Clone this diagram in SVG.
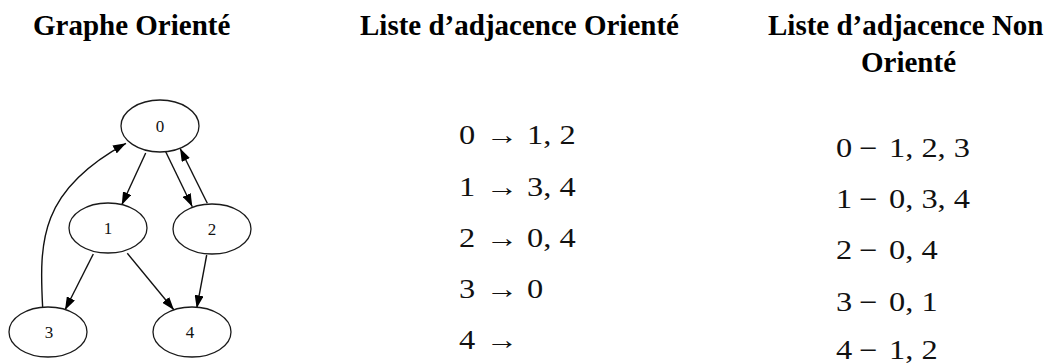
<svg xmlns="http://www.w3.org/2000/svg" width="1046" height="363" viewBox="0 0 1046 363">
<style>
.title{font-family:"Liberation Serif","Times New Roman",serif;font-weight:bold;font-size:29px;fill:#000}
.lst{font-family:"Liberation Serif","Times New Roman",serif;font-size:27px;fill:#111}
.node ellipse{fill:#fff;stroke:#1a1a1a;stroke-width:1.3}
.node text{font-family:"Liberation Serif","Times New Roman",serif;font-size:17px;fill:#111;text-anchor:middle}
.edge{fill:none;stroke:#111;stroke-width:1.4;marker-end:url(#ah)}
</style>
<defs>
<marker id="ah" viewBox="0 0 13 9" refX="13" refY="4.5" markerWidth="13" markerHeight="9" markerUnits="userSpaceOnUse" orient="auto">
<path d="M0,0 L13,4.5 L0,9 Z" fill="#000"/>
</marker>
</defs>
<rect width="1046" height="363" fill="#fff"/>
<g id="titles">
<text class="title" x="33" y="34.5">Graphe Orienté</text>
<text class="title" x="360" y="34.5">Liste d’adjacence Orienté</text>
<text class="title" x="768" y="34.5">Liste d’adjacence Non</text>
<text class="title" x="861" y="71.5">Orienté</text>
</g>
<g id="connectors">
<path class="edge" d="M145.7,153 L121.7,205"/>
<path class="edge" d="M165.7,151.7 L192.3,206.7"/>
<path class="edge" d="M207.3,203.3 L180,148.3"/>
<path class="edge" d="M93.3,254 L65,310"/>
<path class="edge" d="M127.3,253.3 L174,310"/>
<path class="edge" d="M206.7,255 L196.7,308.3"/>
<path class="edge" d="M42.7,308.3 C39,240 40,190 126,143.3"/>
</g>
<g id="node0" class="node"><ellipse cx="160" cy="126" rx="39" ry="26"/><text x="160" y="132">0</text></g>
<g id="node1" class="node"><ellipse cx="108" cy="228" rx="39" ry="25"/><text x="108" y="234">1</text></g>
<g id="node2" class="node"><ellipse cx="212" cy="229" rx="39" ry="25"/><text x="212" y="235">2</text></g>
<g id="node3" class="node"><ellipse cx="48" cy="332" rx="39" ry="25"/><text x="49" y="338">3</text></g>
<g id="node4" class="node"><ellipse cx="192" cy="332" rx="39" ry="25"/><text x="190" y="338">4</text></g>
<g id="list-oriente">
<text class="lst" transform="translate(459,144) scale(1.2 1)">0</text>
<text class="lst" transform="translate(486,144) scale(1.2 1)">→</text>
<text class="lst" transform="translate(527,144) scale(1.2 1)">1, 2</text>
<text class="lst" transform="translate(459,196) scale(1.2 1)">1</text>
<text class="lst" transform="translate(486,196) scale(1.2 1)">→</text>
<text class="lst" transform="translate(527,196) scale(1.2 1)">3, 4</text>
<text class="lst" transform="translate(459,247) scale(1.2 1)">2</text>
<text class="lst" transform="translate(486,247) scale(1.2 1)">→</text>
<text class="lst" transform="translate(527,247) scale(1.2 1)">0, 4</text>
<text class="lst" transform="translate(459,298) scale(1.2 1)">3</text>
<text class="lst" transform="translate(486,298) scale(1.2 1)">→</text>
<text class="lst" transform="translate(527,298) scale(1.2 1)">0</text>
<text class="lst" transform="translate(459,349) scale(1.2 1)">4</text>
<text class="lst" transform="translate(486,349) scale(1.2 1)">→</text>
</g>
<g id="list-non-oriente">
<text class="lst" transform="translate(836,157) scale(1.2 1)">0</text>
<text class="lst" transform="translate(859,157) scale(1.2 1)">−</text>
<text class="lst" transform="translate(889,157) scale(1.2 1)">1, 2, 3</text>
<text class="lst" transform="translate(836,208) scale(1.2 1)">1</text>
<text class="lst" transform="translate(859,208) scale(1.2 1)">−</text>
<text class="lst" transform="translate(889,208) scale(1.2 1)">0, 3, 4</text>
<text class="lst" transform="translate(836,259) scale(1.2 1)">2</text>
<text class="lst" transform="translate(859,259) scale(1.2 1)">−</text>
<text class="lst" transform="translate(889,259) scale(1.2 1)">0, 4</text>
<text class="lst" transform="translate(836,311) scale(1.2 1)">3</text>
<text class="lst" transform="translate(859,311) scale(1.2 1)">−</text>
<text class="lst" transform="translate(889,311) scale(1.2 1)">0, 1</text>
<text class="lst" transform="translate(836,359) scale(1.2 1)">4</text>
<text class="lst" transform="translate(859,359) scale(1.2 1)">−</text>
<text class="lst" transform="translate(889,359) scale(1.2 1)">1, 2</text>
</g>
</svg>
